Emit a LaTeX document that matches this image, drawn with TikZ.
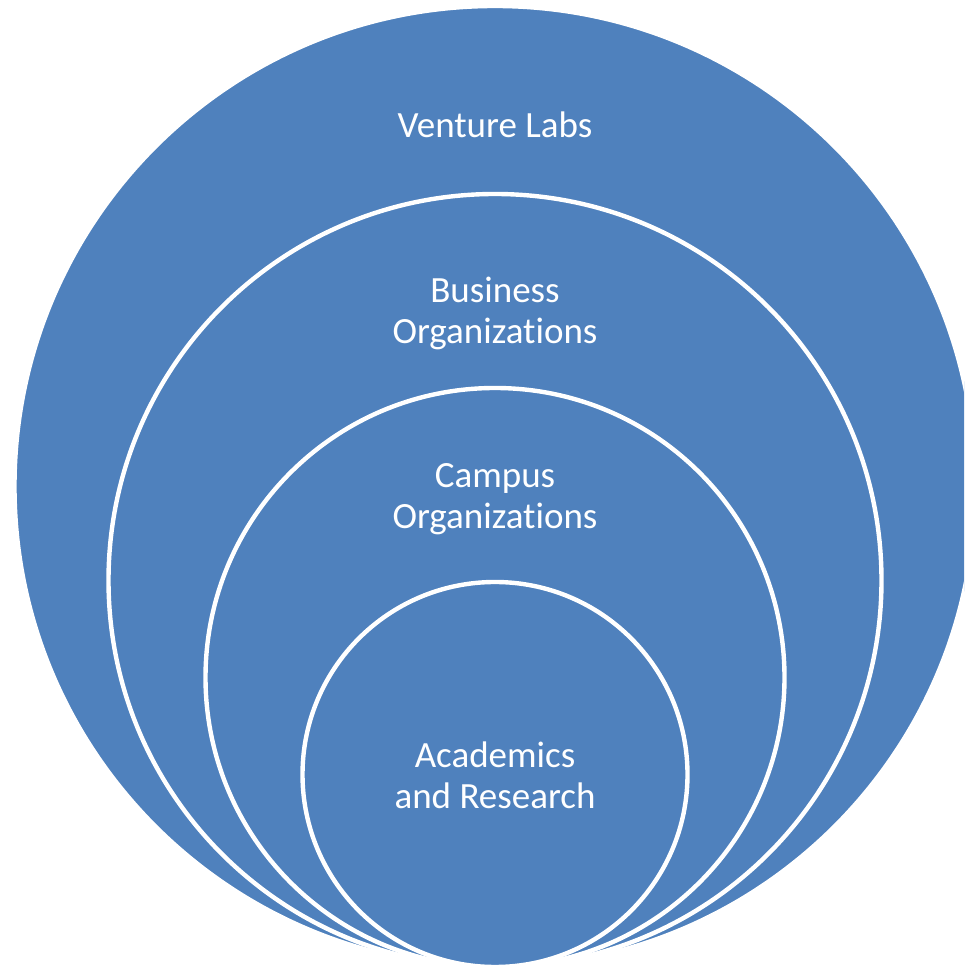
\documentclass[tikz,border=0pt]{standalone}
\usepackage{fontspec}
\setmainfont{Carlito}[Ligatures=NoCommon]
\usetikzlibrary{positioning}

\definecolor{ringblue}{HTML}{4F81BD}
\tikzset{
  ring/.style={fill=ringblue, draw=white, line width=2.2pt},
  ringlabel/.style={text=white, align=center, inner sep=0pt,
    font=\fontsize{18.5}{20.5}\selectfont}
}

\begin{document}
\begin{tikzpicture}
            \useasboundingbox (0,0) rectangle (482pt,484pt);
            \clip (0,0) rectangle (482pt,484pt);

            % nested rings, all touching at the bottom
            \foreach \r in {240.25,193.25,144.75,96.25}
            {
            \path[ring] (247.5pt,0.5pt+\r pt) circle (\r pt);
            }

            \node[ringlabel] (venture)   at (247.5pt,421.7pt) {Venture Labs};
            \node[ringlabel] (business)  at (247.5pt,327.2pt) {Business\\Organizations};
            \node[ringlabel] (campus)    at (247.5pt,234.2pt) {Campus\\Organizations};
            \node[ringlabel] (academics) at (247.5pt,96.3pt)  {Academics\\and Research};
        \end{tikzpicture}
\end{document}
